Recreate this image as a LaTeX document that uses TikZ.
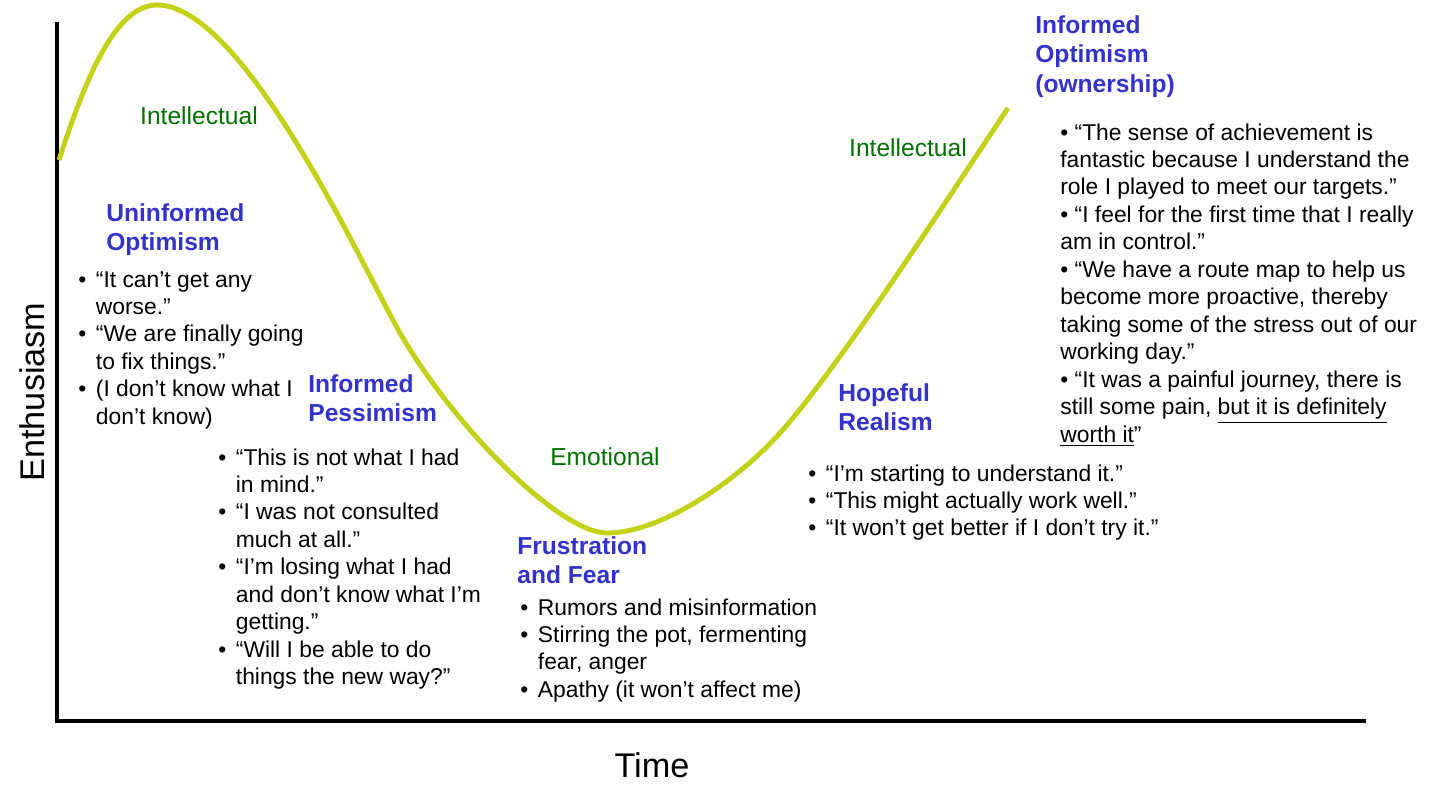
\documentclass[tikz,border=0pt]{standalone}
\usepackage{fontspec}
\setmainfont{Liberation Sans}
\usetikzlibrary{positioning}
\definecolor{curvegreen}{RGB}{196,209,22}
\definecolor{phaseblue}{RGB}{51,51,204}
\definecolor{modegreen}{RGB}{0,112,0}
\newcommand{\itm}{\makebox[10pt][l]{\textbullet}}

\begin{document}
\begin{tikzpicture}[x=0.02cm, y=-0.02cm,
    heading/.style={anchor=base west, inner sep=0pt, text=phaseblue, font=\fontsize{14}{17}\selectfont\bfseries},
    mode/.style={anchor=base, inner sep=0pt, text=modegreen, font=\fontsize{14}{17}\selectfont},
    quotes/.style={anchor=base west, inner sep=0pt, font=\fontsize{13}{15.65}\selectfont},
    axislabel/.style={inner sep=0pt, font=\fontsize{19.5}{23}\selectfont}]
    \useasboundingbox (0,0) rectangle (1455,805);
    % axes
    \draw[line width=2.55pt] (57,22) -- (57,721) -- (1366,721);
    \node[axislabel, rotate=90] (yaxis) at (32,392) {Enthusiasm};
    \node[axislabel] (xaxis) at (652,765) {Time};
    % change curve
    \draw[curvegreen, line width=2.8pt] (59,160) .. controls (85,80) and (115,5) .. (157,5)
        .. controls (245,5) and (365,272) .. (400,333)
        .. controls (455,428) and (560,533) .. (607,533)
        .. controls (660,533) and (735,483) .. (780,433)
        .. controls (840,366) and (948,198) .. (1008,108);
    \node[mode] (intel1) at (199,124) {Intellectual};
    \node[mode] (emotion) at (605,465) {Emotional};
    \node[mode] (intel2) at (908,156) {Intellectual};
    % uninformed optimism
    \node[heading] (uninf) at (106,221) {\begin{tabular}[t]{@{}l@{}}Uninformed\\Optimism\end{tabular}};
    \node[quotes] (uninfq) at (78,287) {\begin{tabular}[t]{@{}l@{}l@{}}
        \itm & “It can’t get any\\ & worse.”\\
        \itm & “We are finally going\\ & to fix things.”\\
        \itm & (I don’t know what I\\ & don’t know)\end{tabular}};
    % informed pessimism
    \node[heading] (pessim) at (308,392) {\begin{tabular}[t]{@{}l@{}}Informed\\Pessimism\end{tabular}};
    \node[quotes] (pessimq) at (218,465) {\begin{tabular}[t]{@{}l@{}l@{}}
        \itm & “This is not what I had\\ & in mind.”\\
        \itm & “I was not consulted\\ & much at all.”\\
        \itm & “I’m losing what I had\\ & and don’t know what I’m\\ & getting.”\\
        \itm & “Will I be able to do\\ & things the new way?”\end{tabular}};
    % frustration and fear
    \node[heading] (frust) at (517,554) {\begin{tabular}[t]{@{}l@{}}Frustration\\and Fear\end{tabular}};
    \node[quotes] (frustq) at (520,615) {\begin{tabular}[t]{@{}l@{}l@{}}
        \itm & Rumors and misinformation\\
        \itm & Stirring the pot, fermenting\\ & fear, anger\\
        \itm & Apathy (it won’t affect me)\end{tabular}};
    % hopeful realism
    \node[heading] (hope) at (838,401) {\begin{tabular}[t]{@{}l@{}}Hopeful\\Realism\end{tabular}};
    \node[quotes] (hopeq) at (808,481) {\begin{tabular}[t]{@{}l@{}l@{}}
        \itm & “I’m starting to understand it.”\\
        \itm & “This might actually work well.”\\
        \itm & “It won’t get better if I don’t try it.”\end{tabular}};
    % informed optimism
    \node[heading] (owner) at (1035,33) {\begin{tabular}[t]{@{}l@{}}Informed\\Optimism\\(ownership)\end{tabular}};
    \node[quotes] (ownerq) at (1060,140) {\begin{tabular}[t]{@{}l@{}}
        \textbullet\ “The sense of achievement is\\
        fantastic because I understand the\\
        role I played to meet our targets.”\\
        \textbullet\ “I feel for the first time that I really\\
        am in control.”\\
        \textbullet\ “We have a route map to help us\\
        become more proactive, thereby\\
        taking some of the stress out of our\\
        working day.”\\
        \textbullet\ “It was a painful journey, there is\\
        still some pain, \underline{but it is definitely}\\
        \underline{worth it}”\end{tabular}};
\end{tikzpicture}
\end{document}
